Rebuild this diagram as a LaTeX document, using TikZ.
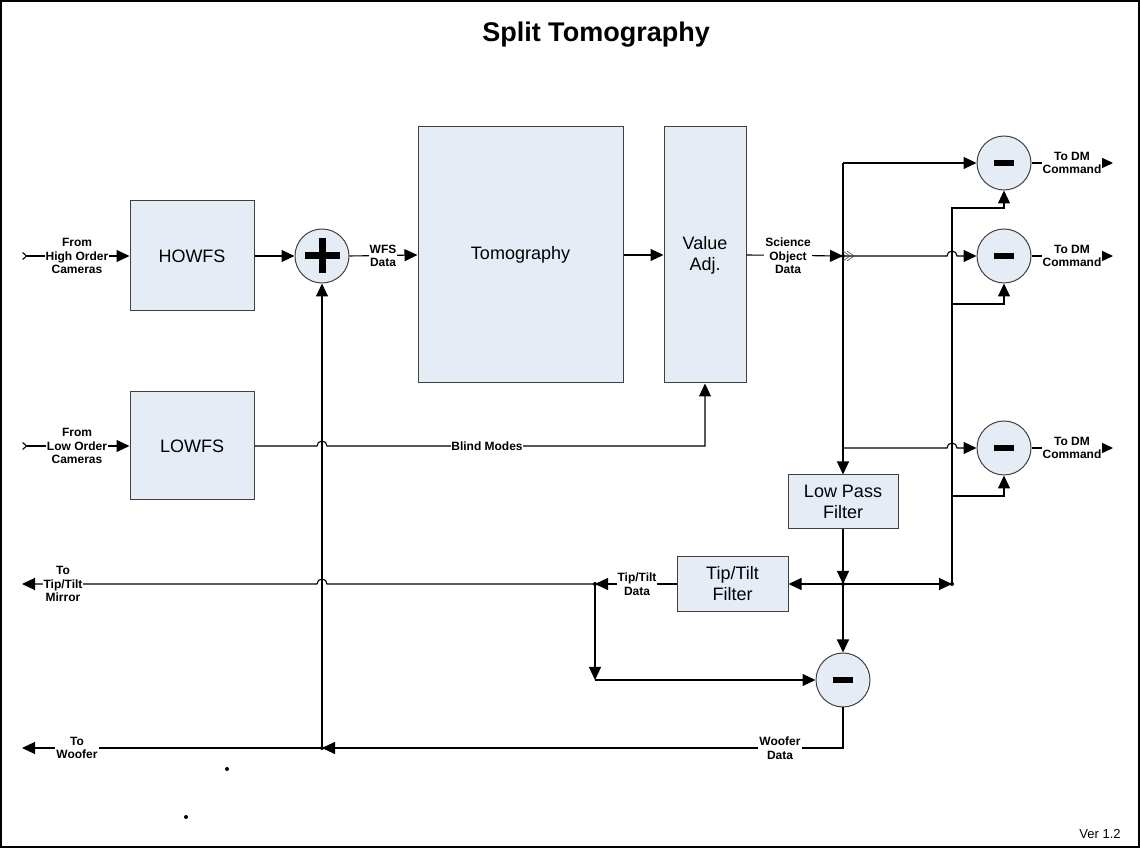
\documentclass[tikz,border=0pt]{standalone}
\usepackage{fontspec}
\setmainfont{Liberation Sans}
\usetikzlibrary{arrows.meta}
\definecolor{boxfill}{HTML}{E6ECF6}
\definecolor{boxline}{HTML}{404040}
\newcommand{\minusbar}{\rule[-3pt]{20pt}{6pt}}
\tikzset{
  blk/.style={draw=boxline, fill=boxfill, line width=1pt, inner sep=0pt, align=center, font=\fontsize{18}{21}\selectfont},
  sumnode/.style={circle, draw=boxline, fill=boxfill, line width=1pt, minimum size=54pt, inner sep=0pt},
  lbl/.style={fill=white, inner sep=1pt, align=center, font=\fontsize{12}{13.5}\selectfont\bfseries},
  sig/.style={line width=1.1pt, -{Triangle[length=13pt,width=12pt]}},
  inp/.style={line width=1.1pt, {Straight Barb[reversed,length=4pt,width=7pt]}-{Triangle[length=13pt,width=12pt]}},
}
\begin{document}
\begin{tikzpicture}[x=1pt,y=1pt]
\useasboundingbox (0,0) rectangle (1140,848);
\draw[line width=2pt] (1,1) rectangle (1139,847);
\node[font=\fontsize{27}{30}\selectfont\bfseries, anchor=base] (title) at (596,806) {Split Tomography};
% blocks
\node[blk, minimum width=124pt, minimum height=110pt] (howfs) at (192,592) {HOWFS};
\node[blk, minimum width=124pt, minimum height=108pt] (lowfs) at (192,402) {LOWFS};
\node[blk, minimum width=205pt, minimum height=256pt] (tomo) at (520.5,593) {Tomography};
\node[blk, minimum width=82pt, minimum height=256pt] (adj) at (705,593) {Value\\Adj.};
\node[blk, minimum width=110pt, minimum height=54pt] (lpf) at (843,346) {Low Pass\\Filter};
\node[blk, minimum width=111pt, minimum height=55pt] (ttf) at (732.5,264) {Tip/Tilt\\Filter};
% summing junctions
\node[sumnode] (plus) at (322,592) {};
\fill (plus.center) +(-17.5,-3.5) rectangle +(17.5,3.5);
\fill (plus.center) +(-3.5,-17.5) rectangle +(3.5,17.5);
\node[sumnode] (m1) at (1004,685) {\minusbar};
\node[sumnode] (m2) at (1004,592) {\minusbar};
\node[sumnode] (m3) at (1004,400) {\minusbar};
\node[sumnode] (m4) at (843,168) {\minusbar};
% branch points and free ends
\coordinate (inh) at (22,592);
\coordinate (inl) at (22,402);
\coordinate (j1) at (843,592);
\coordinate (jtop) at (843,685);
\coordinate (j4) at (843,400);
\coordinate (j2) at (843,264);
\coordinate (j3) at (952,264);
\coordinate (b1) at (952,640);
\coordinate (b2) at (952,544);
\coordinate (b3) at (952,352);
\coordinate (jtt) at (595,264);
\coordinate (jc) at (595,168);
\coordinate (jwf) at (322,100);
\coordinate (outtt) at (22,264);
\coordinate (outwf) at (22,100);
\coordinate (o1) at (1113,685);
\coordinate (o2) at (1113,592);
\coordinate (o3) at (1113,400);
% signal paths
\draw[inp] (inh) -- (howfs.west);
\draw[inp] (inl) -- (lowfs.west);
\draw[sig] (howfs.east) -- (plus.west);
\draw[sig] (plus.east) -- (tomo.west);
\draw[sig] (tomo.east) -- (adj.west);
\draw[sig] (adj.east) -- (j1);
\draw[sig] (lowfs.east) -- (317,402) arc[start angle=180,end angle=0,radius=5] -| (adj.south);
\draw[sig] (jtop) -- (lpf.north);
\draw[sig] (jtop) -- (m1.west);
\draw[sig] (j1) -- (947,592) arc[start angle=180,end angle=0,radius=5] -- (m2.west);
\draw[line width=0.6pt, boxline] (843,587) -- (850,592) -- (843,597) (847,587) -- (854,592) -- (847,597);
\draw[sig] (j4) -- (947,400) arc[start angle=180,end angle=0,radius=5] -- (m3.west);
\draw[sig] (lpf.south) -- (j2);
\draw[sig] (j2) -- (ttf.east);
\draw[sig] (j2) -- (j3);
\draw[sig] (j2) -- (m4.north);
\draw[sig] (j3) -- (b1) -| (m1.south);
\draw[sig] (b2) -| (m2.south);
\draw[sig] (b3) -| (m3.south);
\draw[sig] (ttf.west) -- (jtt);
\draw[sig] (jtt) -- (327,264) arc[start angle=0,end angle=180,radius=5] -- (outtt);
\draw[sig] (jtt) -- (jc);
\draw[sig] (jc) -- (m4.west);
\draw[sig] (m4.south) |- (jwf);
\draw[sig] (jwf) -- (outwf);
\draw[sig] (jwf) -- (plus.south);
\draw[sig] (m1.east) -- (o1);
\draw[sig] (m2.east) -- (o2);
\draw[sig] (m3.east) -- (o3);
\fill (j1) circle (2);
\fill (j2) circle (2);
\fill (j3) circle (2);
\fill (jtt) circle (2);
\fill (jwf) circle (2);
% labels
\node[lbl] (lblh) at (77,592) {From\\High Order\\Cameras};
\node[lbl] (lbll) at (77,402) {From\\Low Order\\Cameras};
\node[lbl] (lblwfs) at (383,592) {WFS\\Data};
\node[lbl] (lblsci) at (788,592) {Science\\Object\\Data};
\node[lbl, inner sep=0pt] (lblbm) at (487,402) {Blind Modes};
\node[lbl] (lbltt) at (637,264) {Tip/Tilt\\Data};
\node[lbl] (lblwd) at (780,100) {Woofer\\Data};
\node[lbl] (lblttm) at (63,264) {To\\Tip/Tilt\\Mirror};
\node[lbl] (lblwo) at (77,100) {To\\Woofer};
\node[lbl] (dm1) at (1072,685) {To DM\\Command};
\node[lbl] (dm2) at (1072,592) {To DM\\Command};
\node[lbl] (dm3) at (1072,400) {To DM\\Command};
\fill (227,79) circle (2);
\fill (186,31) circle (2);
\node[font=\fontsize{13}{15}\selectfont] (ver) at (1100,14) {Ver 1.2};
\end{tikzpicture}
\end{document}
